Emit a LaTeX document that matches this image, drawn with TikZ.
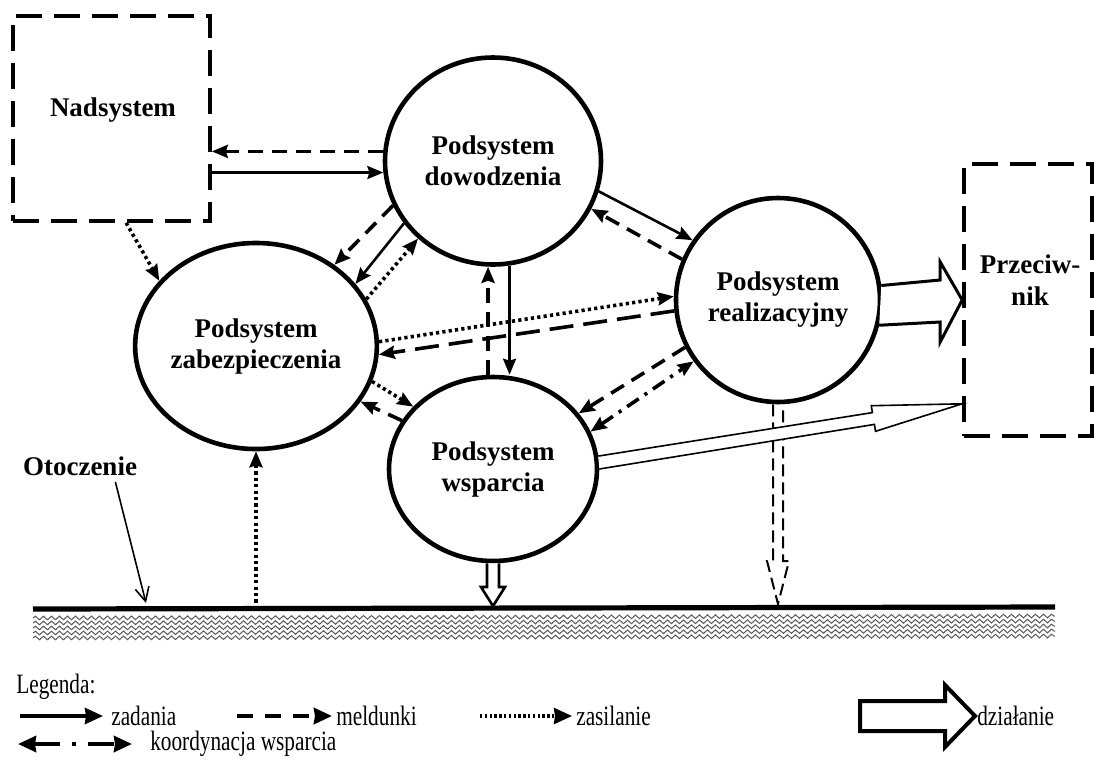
\documentclass[tikz,border=0pt]{standalone}
\usepackage{fontspec}
\setmainfont{Liberation Serif}
\usetikzlibrary{arrows.meta, positioning, shapes.geometric, calc, decorations.pathmorphing}

\tikzset{
  sub/.style={ellipse, draw, line width=2.3pt, inner sep=0pt, align=center, font=\bfseries\fontsize{13.5}{15.5}\selectfont},
  zone/.style={draw, line width=1.8pt, dash pattern=on 13pt off 6pt},
  lbl/.style={font=\bfseries\fontsize{13.5}{16}\selectfont, align=center, inner sep=0pt},
  legt/.style={font=\fontsize{14}{16}\selectfont, xscale=0.76, anchor=west, inner sep=0pt},
  hd/.style={-{Stealth[length=8pt, width=6.5pt, inset=1pt]}},
  lhd/.style={-{Stealth[length=9pt, width=8pt, inset=0.5pt]}},
  zad/.style={line width=1.3pt, hd},
  meld/.style={line width=1.8pt, dash pattern=on 7.5pt off 4.5pt, hd},
  lmeld/.style={line width=1.8pt, dash pattern=on 12pt off 5pt, hd},
  zas/.style={line width=1.8pt, dash pattern=on 1.6pt off 1.6pt, hd},
  koord/.style={line width=1.8pt, dash pattern=on 7pt off 3.5pt on 1.6pt off 3.5pt, {Stealth[length=8pt, width=6.5pt, inset=1pt]}-{Stealth[length=8pt, width=6.5pt, inset=1pt]}},
  hollow/.style={draw, fill=white, line width=1.3pt, line join=miter},
  dhollow/.style={line width=1pt, dash pattern=on 6pt off 3pt},
  ota/.style={line width=0.8pt, -{Straight Barb[length=7pt, width=7pt]}},
  ground/.style={line width=2.6pt},
  hatch/.style={black!65, line width=0.5pt, decorate, decoration={snake, segment length=4pt, amplitude=0.9pt}}
}

\begin{document}
\begin{tikzpicture}[x=0.5pt, y=-0.5pt]
  \useasboundingbox (0,0) rectangle (1097,761);

  % Subsystems
  \node (dow) [sub, minimum width=108pt, minimum height=103.5pt] at (493,161) {Podsystem\\dowodzenia};
  \node (zab) [sub, minimum width=112.5pt, minimum height=103pt] at (256,346) {Podsystem\\zabezpieczenia};
  \node (real) [sub, minimum width=102pt, minimum height=102pt] at (778,300) {Podsystem\\realizacyjny};
  \node (wsp) [sub, minimum width=104pt, minimum height=92pt] at (493,469) {Podsystem\\wsparcia};

  % Outer systems
  \node (nad) [zone, minimum width=98.5pt, minimum height=102.5pt] at (111.5,118.5) {};
  \node (nadt) [lbl] at (113,110) {Nadsystem};
  \node (prz) [zone, minimum width=64pt, minimum height=136pt] at (1028,300) {};
  \node (przt) [lbl] at (1030,280) {Przeciw-\\nik};

  % Environment
  \coordinate (gl) at (33,609);
  \coordinate (gr) at (1055,607);
  \foreach \hy in {9,14,19,24,29}
    \draw[hatch] ($(gl)+(0,\hy)$) -- ($(gr)+(0,\hy)$);
  \draw[ground] (gl) -- (gr);
  \node (otoc) [lbl] at (80,466) {Otoczenie};
  \coordinate (otip) at (146,603);
  \draw[ota] (otoc.south east) ++(-22,6) -- (otip);

  % Nadsystem
  \draw[meld] (dow.175) -- (dow.175 -| nad.east);
  \draw[zad] (nad.east |- dow.186) -- (dow.186);
  \draw[zas] (nad.-82) -- (zab.146);

  % dowodzenie - zabezpieczenie
  \draw[meld] (dow.204) -- (zab.46);
  \draw[zad] (dow.215) -- (zab.32);
  \draw[zas] (zab.23) -- (dow.226);

  % dowodzenie - wsparcie
  \draw[meld] (wsp.93) -- (wsp.93 |- dow.south);
  \draw[zad] (dow.279) -- (dow.279 |- wsp.north);

  % dowodzenie - realizacja
  \draw[zad] (dow.344) -- (real.145);
  \draw[meld] (real.157) -- (dow.334);

  % zabezpieczenie - realizacja
  \draw[zas] (zab.2) -- (real.178);
  \draw[lmeld] (real.186) -- (zab.356);

  % realizacja - wsparcie
  \draw[meld] (real.207) -- (wsp.33);
  \draw[koord] (wsp.21) -- (real.216);

  % zabezpieczenie - wsparcie
  \draw[zas] (zab.343) -- (wsp.142);
  \draw[meld] (wsp.152) -- (zab.332);
  \draw[zas] (zab.south |- gl) -- (zab.south);

  % Actions
  \draw[hollow, line width=1.5pt] (real.8.4) -- ($(prz.west)+(-22,-20)$) -- ($(prz.west)+(-22,-38)$) -- (prz.west)
    -- ($(prz.west)+(-22,42)$) -- ($(prz.west)+(-22,22)$) -- (real.-14);
  \coordinate (wd) at (wsp.south |- gl);
  \draw[hollow] ($(wsp.south)+(-6,0)$) -- ($(wd)+(-6,-22)$) -- ($(wd)+(-12,-22)$) -- ($(wd)+(0,-3)$)
    -- ($(wd)+(12,-22)$) -- ($(wd)+(6,-22)$) -- ($(wsp.south)+(6,0)$);
  \coordinate (rd) at (real.south |- gr);
  \draw[dhollow] ($(real.south)+(-5,0)$) -- ($(rd)+(-5,-46)$) -- ($(rd)+(-11,-46)$) -- ($(rd)+(0,-3)$)
    -- ($(rd)+(11,-46)$) -- ($(rd)+(5,-46)$) -- ($(real.south)+(5,0)$);
  \coordinate (wt) at ($(prz.south west)+(0,-34)$);
  \draw[hollow, line width=0.8pt] (wsp.7) -- ($(wt)+(-89.8,8.8)$) -- ($(wt)+(-90.9,1.9)$) -- (wt)
    -- ($(wt)+(-86.7,27.5)$) -- ($(wt)+(-87.8,20.6)$) -- (wsp.0);

  % Legend
  \node (legt0) [legt] at (16,687) {Legenda:};
  \coordinate (za) at (20,716);
  \node (zadt) [legt] at (111,716) {zadania};
  \draw[line width=1.8pt, lhd] (za) -- ($(zadt.west)+(-8,0)$);
  \coordinate (ma) at (237,716);
  \node (melt) [legt] at (336,716) {meldunki};
  \draw[line width=2.2pt, dash pattern=on 8pt off 6pt, lhd] (ma) -- ($(melt.west)+(-4,0)$);
  \coordinate (sa) at (480,716);
  \node (zast) [legt] at (576,716) {zasilanie};
  \draw[line width=1.6pt, dash pattern=on 1.2pt off 1.2pt, lhd] (sa) -- ($(zast.west)+(-4,0)$);
  \node (dzt) [legt] at (977,716) {działanie};
  \draw[hollow, line width=2pt] ($(dzt.west)+(-2,0)$) -- ++(-30,-31) -- ++(0,16) -- ++(-85,0)
    -- ++(0,30) -- ++(85,0) -- ++(0,16) -- cycle;
  \coordinate (ka) at (18,744);
  \node (kot) [legt] at (150,744) {koordynacja wsparcia};
  \draw[line width=2pt, dash pattern=on 13pt off 6pt on 2pt off 6pt,
    {Stealth[length=9pt, width=8pt, inset=0.5pt]}-{Stealth[length=9pt, width=8pt, inset=0.5pt]}]
    (ka) -- ($(kot.west)+(-18,0)$);
\end{tikzpicture}
\end{document}
